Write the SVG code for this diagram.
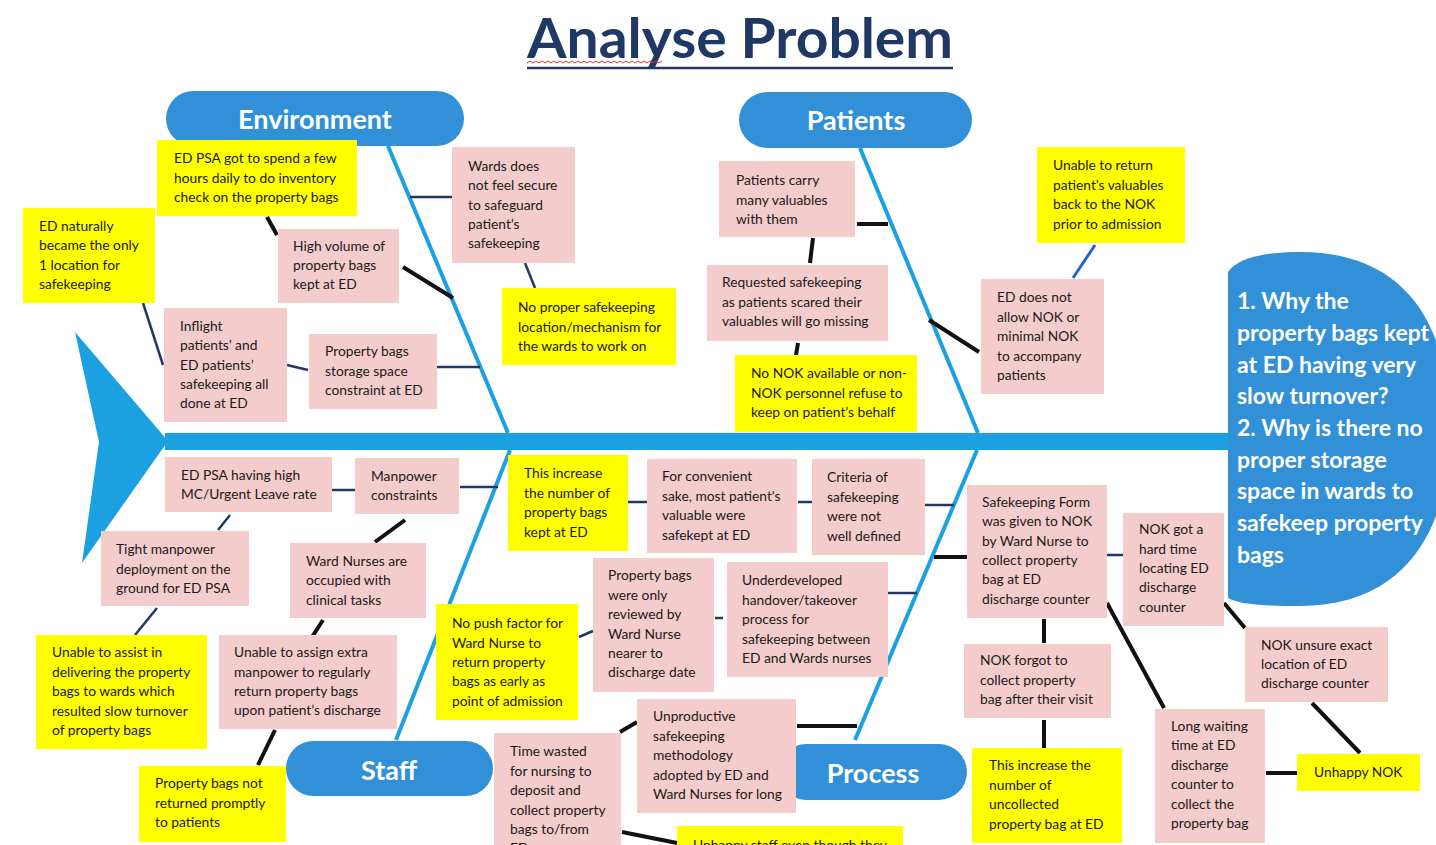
<svg xmlns="http://www.w3.org/2000/svg" width="1436" height="845" viewBox="0 0 1436 845">
<style>
.bg{fill:#ffffff}
.pink{fill:#F4CCCC}
.yel{fill:#FFFF00}
.t{font-family:Lato,"Open Sans","Liberation Sans",sans-serif;font-size:13.8px;fill:#1a1a1a}
.pill{fill:#3190D8}
.pl{font-family:Lato,"Open Sans","Liberation Sans",sans-serif;font-size:27px;font-weight:bold;fill:#ffffff;text-anchor:middle}
.hd{font-family:Lato,"Open Sans","Liberation Sans",sans-serif;font-size:23px;font-weight:bold;fill:#ffffff}
.rib{stroke:#1BA1E2;stroke-width:4;fill:none}
.n{stroke:#1F3864;stroke-width:2.5;fill:none}
.b{stroke:#111111;stroke-width:4;fill:none}
.bl{stroke:#2563C9;stroke-width:3;fill:none}
</style>
<rect class="bg" x="0" y="0" width="1436" height="845"/>

<g id="title">
<text x="527" y="58" font-family="Lato,'Open Sans','Liberation Sans',sans-serif" font-size="55" font-weight="bold" fill="#203864" textLength="426" lengthAdjust="spacingAndGlyphs">Analyse Problem</text>
<line x1="527" y1="68" x2="953" y2="68" stroke="#203864" stroke-width="2.5"/>
<path d="M527,63 l3,-2 l3,2 l3,-2 l3,2 l3,-2 l3,2 l3,-2 l3,2 l3,-2 l3,2 l3,-2 l3,2 l3,-2 l3,2 l3,-2 l3,2 l3,-2 l3,2 l3,-2 l3,2 l3,-2 l3,2 l3,-2 l3,2 l3,-2 l3,2 l3,-2 l3,2 l3,-2 l3,2 l3,-2 l3,2 l3,-2 l3,2 l3,-2 l3,2 l3,-2 l3,2 l3,-2 l3,2 l3,-2 l3,2 l3,-2 l3,2 l3,-2" stroke="#E03030" stroke-width="1" fill="none"/>
</g>

<g id="skeleton">
<polygon points="75,332 168,441 82,563 99,442" fill="#1BA1E2"/>
<rect x="165" y="433" width="1065" height="17" fill="#1BA1E2"/>
<line class="rib" x1="388" y1="146" x2="508" y2="433"/>
<line class="rib" x1="860" y1="148" x2="978" y2="433"/>
<line class="rib" x1="510" y1="450" x2="396" y2="740"/>
<line class="rib" x1="977" y1="450" x2="855" y2="740"/>
</g>

<g id="head">
<path d="M1228,598 L1228,272 C1238,257 1268,252 1300,252 C1410,252 1450,330 1450,430 C1450,530 1405,606 1300,606 C1268,606 1240,605 1228,598 Z" fill="#3190D8"/>
<text class="hd">
<tspan x="1237" y="309">1. Why the</tspan>
<tspan x="1237" y="341">property bags kept</tspan>
<tspan x="1237" y="373">at ED having very</tspan>
<tspan x="1237" y="404">slow turnover?</tspan>
<tspan x="1237" y="436">2. Why is there no</tspan>
<tspan x="1237" y="468">proper storage</tspan>
<tspan x="1237" y="499">space in wards to</tspan>
<tspan x="1237" y="531">safekeep property</tspan>
<tspan x="1237" y="563">bags</tspan>
</text>
</g>

<g id="connectors">
<line class="n" x1="410" y1="197" x2="452" y2="197"/>
<line class="b" x1="403" y1="267" x2="453" y2="298"/>
<line class="b" x1="267" y1="217" x2="277" y2="235"/>
<line class="n" x1="143" y1="303" x2="163" y2="365"/>
<line class="n" x1="287" y1="365" x2="308" y2="370"/>
<line class="n" x1="437" y1="367" x2="480" y2="367"/>
<line class="n" x1="525" y1="263" x2="535" y2="288"/>
<line class="b" x1="857" y1="224" x2="888" y2="224"/>
<line class="b" x1="813" y1="238" x2="810" y2="263"/>
<line class="b" x1="798" y1="343" x2="796" y2="355"/>
<line class="b" x1="929" y1="320" x2="979" y2="352"/>
<line class="bl" x1="1073" y1="278" x2="1095" y2="245"/>
<line class="n" x1="332" y1="490" x2="357" y2="490"/>
<line class="n" x1="460" y1="487" x2="498" y2="487"/>
<line class="n" x1="230" y1="515" x2="218" y2="530"/>
<line class="n" x1="157" y1="608" x2="135" y2="635"/>
<line class="b" x1="405" y1="520" x2="375" y2="542"/>
<line class="b" x1="323" y1="620" x2="312" y2="637"/>
<line class="b" x1="275" y1="730" x2="258" y2="765"/>
<line class="n" x1="579" y1="637" x2="593" y2="631"/>
<line class="n" x1="628" y1="502" x2="647" y2="502"/>
<line class="n" x1="798" y1="502" x2="812" y2="502"/>
<line class="n" x1="925" y1="505" x2="954" y2="505"/>
<line class="n" x1="715" y1="618" x2="723" y2="618"/>
<line class="n" x1="888" y1="593" x2="917" y2="593"/>
<line class="b" x1="934" y1="557" x2="967" y2="557"/>
<line class="b" x1="797" y1="726" x2="857" y2="726"/>
<line class="b" x1="620" y1="732" x2="637" y2="722"/>
<line class="b" x1="622" y1="832" x2="677" y2="843"/>
<line class="n" x1="1107" y1="555" x2="1123" y2="555"/>
<line class="b" x1="1044" y1="619" x2="1044" y2="643"/>
<line class="b" x1="1044" y1="720" x2="1044" y2="748"/>
<line class="b" x1="1107" y1="603" x2="1164" y2="708"/>
<line class="b" x1="1224" y1="603" x2="1245" y2="628"/>
<line class="b" x1="1312" y1="703" x2="1360" y2="753"/>
<line class="b" x1="1266" y1="773" x2="1297" y2="773"/>
</g>

<g id="cat-environment"><rect class="pill" x="166" y="91" width="298" height="55" rx="27.5"/><text class="pl" x="315" y="129">Environment</text></g>
<g id="cat-patients"><rect class="pill" x="739" y="92" width="233" height="56" rx="28"/><text class="pl" x="856" y="130">Patients</text></g>
<g id="cat-staff"><rect class="pill" x="286" y="741" width="207" height="55" rx="27.5"/><text class="pl" x="389" y="780">Staff</text></g>
<g id="cat-process"><rect class="pill" x="778" y="744" width="189" height="56" rx="28"/><text class="pl" x="873" y="783">Process</text></g>

<g id="n1"><rect class="yel" x="157" y="140" width="200" height="76"/><text class="t"><tspan x="174" y="163">ED PSA got to spend a few</tspan><tspan x="174" y="183">hours daily to do inventory</tspan><tspan x="174" y="202">check on the property bags</tspan></text></g>
<g id="n2"><rect class="yel" x="23" y="208" width="132" height="95"/><text class="t"><tspan x="39" y="231">ED naturally</tspan><tspan x="39" y="250">became the only</tspan><tspan x="39" y="270">1 location for</tspan><tspan x="39" y="289">safekeeping</tspan></text></g>
<g id="n3"><rect class="pink" x="278" y="229" width="121" height="74"/><text class="t"><tspan x="293" y="251">High volume of</tspan><tspan x="293" y="270">property bags</tspan><tspan x="293" y="289">kept at ED</tspan></text></g>
<g id="n4"><rect class="pink" x="452" y="147" width="123" height="116"/><text class="t"><tspan x="468" y="171">Wards does</tspan><tspan x="468" y="190">not feel secure</tspan><tspan x="468" y="210">to safeguard</tspan><tspan x="468" y="229">patient’s</tspan><tspan x="468" y="248">safekeeping</tspan></text></g>
<g id="n5"><rect class="pink" x="164" y="308" width="123" height="114"/><text class="t"><tspan x="180" y="331">Inflight</tspan><tspan x="180" y="350">patients’ and</tspan><tspan x="180" y="370">ED patients’</tspan><tspan x="180" y="389">safekeeping all</tspan><tspan x="180" y="408">done at ED</tspan></text></g>
<g id="n6"><rect class="pink" x="309" y="334" width="128" height="75"/><text class="t"><tspan x="325" y="356">Property bags</tspan><tspan x="325" y="376">storage space</tspan><tspan x="325" y="395">constraint at ED</tspan></text></g>
<g id="n7"><rect class="yel" x="502" y="288" width="174" height="77"/><text class="t"><tspan x="518" y="312">No proper safekeeping</tspan><tspan x="518" y="332">location/mechanism for</tspan><tspan x="518" y="351">the wards to work on</tspan></text></g>

<g id="n8"><rect class="pink" x="719" y="161" width="136" height="76"/><text class="t"><tspan x="736" y="185">Patients carry</tspan><tspan x="736" y="205">many valuables</tspan><tspan x="736" y="224">with them</tspan></text></g>
<g id="n9"><rect class="pink" x="707" y="265" width="181" height="76"/><text class="t"><tspan x="722" y="287">Requested safekeeping</tspan><tspan x="722" y="307">as patients scared their</tspan><tspan x="722" y="326">valuables will go missing</tspan></text></g>
<g id="n10"><rect class="yel" x="735" y="355" width="182" height="77"/><text class="t"><tspan x="751" y="378">No NOK available or non-</tspan><tspan x="751" y="398">NOK personnel refuse to</tspan><tspan x="751" y="417">keep on patient’s behalf</tspan></text></g>
<g id="n11"><rect class="yel" x="1037" y="147" width="148" height="96"/><text class="t"><tspan x="1053" y="170">Unable to return</tspan><tspan x="1053" y="190">patient’s valuables</tspan><tspan x="1053" y="209">back to the NOK</tspan><tspan x="1053" y="229">prior to admission</tspan></text></g>
<g id="n12"><rect class="pink" x="981" y="279" width="123" height="115"/><text class="t"><tspan x="997" y="302">ED does not</tspan><tspan x="997" y="322">allow NOK or</tspan><tspan x="997" y="341">minimal NOK</tspan><tspan x="997" y="361">to accompany</tspan><tspan x="997" y="380">patients</tspan></text></g>

<g id="n13"><rect class="pink" x="165" y="457" width="167" height="55"/><text class="t"><tspan x="181" y="480">ED PSA having high</tspan><tspan x="181" y="499">MC/Urgent Leave rate</tspan></text></g>
<g id="n14"><rect class="pink" x="355" y="458" width="104" height="56"/><text class="t"><tspan x="371" y="481">Manpower</tspan><tspan x="371" y="500">constraints</tspan></text></g>
<g id="n15"><rect class="pink" x="101" y="531" width="148" height="75"/><text class="t"><tspan x="116" y="554">Tight manpower</tspan><tspan x="116" y="574">deployment on the</tspan><tspan x="116" y="593">ground for ED PSA</tspan></text></g>
<g id="n16"><rect class="pink" x="290" y="543" width="136" height="75"/><text class="t"><tspan x="306" y="566">Ward Nurses are</tspan><tspan x="306" y="585">occupied with</tspan><tspan x="306" y="605">clinical tasks</tspan></text></g>
<g id="n17"><rect class="yel" x="36" y="635" width="171" height="114"/><text class="t"><tspan x="52" y="657">Unable to assist in</tspan><tspan x="52" y="677">delivering the property</tspan><tspan x="52" y="696">bags to wards which</tspan><tspan x="52" y="716">resulted slow turnover</tspan><tspan x="52" y="735">of property bags</tspan></text></g>
<g id="n18"><rect class="pink" x="219" y="635" width="178" height="94"/><text class="t"><tspan x="234" y="657">Unable to assign extra</tspan><tspan x="234" y="677">manpower to regularly</tspan><tspan x="234" y="696">return property bags</tspan><tspan x="234" y="715">upon patient’s discharge</tspan></text></g>
<g id="n19"><rect class="yel" x="139" y="766" width="147" height="76"/><text class="t"><tspan x="155" y="788">Property bags not</tspan><tspan x="155" y="808">returned promptly</tspan><tspan x="155" y="827">to patients</tspan></text></g>
<g id="n20"><rect class="yel" x="436" y="604" width="142" height="116"/><text class="t"><tspan x="452" y="628">No push factor for</tspan><tspan x="452" y="648">Ward Nurse to</tspan><tspan x="452" y="667">return property</tspan><tspan x="452" y="686">bags as early as</tspan><tspan x="452" y="706">point of admission</tspan></text></g>

<g id="n21"><rect class="yel" x="508" y="455" width="120" height="96"/><text class="t"><tspan x="524" y="478">This increase</tspan><tspan x="524" y="498">the number of</tspan><tspan x="524" y="517">property bags</tspan><tspan x="524" y="537">kept at ED</tspan></text></g>
<g id="n22"><rect class="pink" x="647" y="459" width="150" height="94"/><text class="t"><tspan x="662" y="481">For convenient</tspan><tspan x="662" y="501">sake, most patient's</tspan><tspan x="662" y="520">valuable were</tspan><tspan x="662" y="540">safekept at ED</tspan></text></g>
<g id="n23"><rect class="pink" x="812" y="459" width="113" height="96"/><text class="t"><tspan x="827" y="482">Criteria of</tspan><tspan x="827" y="502">safekeeping</tspan><tspan x="827" y="521">were not</tspan><tspan x="827" y="541">well defined</tspan></text></g>
<g id="n24"><rect class="pink" x="593" y="558" width="121" height="134"/><text class="t"><tspan x="608" y="580">Property bags</tspan><tspan x="608" y="600">were only</tspan><tspan x="608" y="619">reviewed by</tspan><tspan x="608" y="639">Ward Nurse</tspan><tspan x="608" y="658">nearer to</tspan><tspan x="608" y="677">discharge date</tspan></text></g>
<g id="n25"><rect class="pink" x="727" y="562" width="161" height="115"/><text class="t"><tspan x="742" y="585">Underdeveloped</tspan><tspan x="742" y="605">handover/takeover</tspan><tspan x="742" y="624">process for</tspan><tspan x="742" y="644">safekeeping between</tspan><tspan x="742" y="663">ED and Wards nurses</tspan></text></g>
<g id="n26"><rect class="pink" x="637" y="699" width="159" height="114"/><text class="t"><tspan x="653" y="721">Unproductive</tspan><tspan x="653" y="741">safekeeping</tspan><tspan x="653" y="760">methodology</tspan><tspan x="653" y="780">adopted by ED and</tspan><tspan x="653" y="799">Ward Nurses for long</tspan></text></g>
<g id="n27"><rect class="pink" x="494" y="733" width="127" height="130"/><text class="t"><tspan x="510" y="756">Time wasted</tspan><tspan x="510" y="776">for nursing to</tspan><tspan x="510" y="795">deposit and</tspan><tspan x="510" y="815">collect property</tspan><tspan x="510" y="834">bags to/from</tspan><tspan x="510" y="853">ED</tspan></text></g>
<g id="n28"><rect class="yel" x="677" y="826" width="226" height="40"/><text class="t"><tspan x="693" y="850">Unhappy staff even though they</tspan></text></g>

<g id="n29"><rect class="pink" x="967" y="485" width="140" height="133"/><text class="t"><tspan x="982" y="507">Safekeeping Form</tspan><tspan x="982" y="526">was given to NOK</tspan><tspan x="982" y="546">by Ward Nurse to</tspan><tspan x="982" y="565">collect property</tspan><tspan x="982" y="584">bag at ED</tspan><tspan x="982" y="604">discharge counter</tspan></text></g>
<g id="n30"><rect class="pink" x="1123" y="513" width="101" height="113"/><text class="t"><tspan x="1139" y="534">NOK got a</tspan><tspan x="1139" y="554">hard time</tspan><tspan x="1139" y="573">locating ED</tspan><tspan x="1139" y="592">discharge</tspan><tspan x="1139" y="612">counter</tspan></text></g>
<g id="n31"><rect class="pink" x="964" y="644" width="147" height="74"/><text class="t"><tspan x="980" y="665">NOK forgot to</tspan><tspan x="980" y="685">collect property</tspan><tspan x="980" y="704">bag after their visit</tspan></text></g>
<g id="n32"><rect class="yel" x="972" y="748" width="150" height="95"/><text class="t"><tspan x="989" y="770">This increase the</tspan><tspan x="989" y="790">number of</tspan><tspan x="989" y="809">uncollected</tspan><tspan x="989" y="829">property bag at ED</tspan></text></g>
<g id="n33"><rect class="pink" x="1245" y="627" width="143" height="75"/><text class="t"><tspan x="1261" y="650">NOK unsure exact</tspan><tspan x="1261" y="669">location of ED</tspan><tspan x="1261" y="688">discharge counter</tspan></text></g>
<g id="n34"><rect class="pink" x="1155" y="709" width="110" height="134"/><text class="t"><tspan x="1171" y="731">Long waiting</tspan><tspan x="1171" y="750">time at ED</tspan><tspan x="1171" y="770">discharge</tspan><tspan x="1171" y="789">counter to</tspan><tspan x="1171" y="809">collect the</tspan><tspan x="1171" y="828">property bag</tspan></text></g>
<g id="n35"><rect class="yel" x="1297" y="754" width="123" height="37"/><text class="t"><tspan x="1314" y="777">Unhappy NOK</tspan></text></g>
</svg>
